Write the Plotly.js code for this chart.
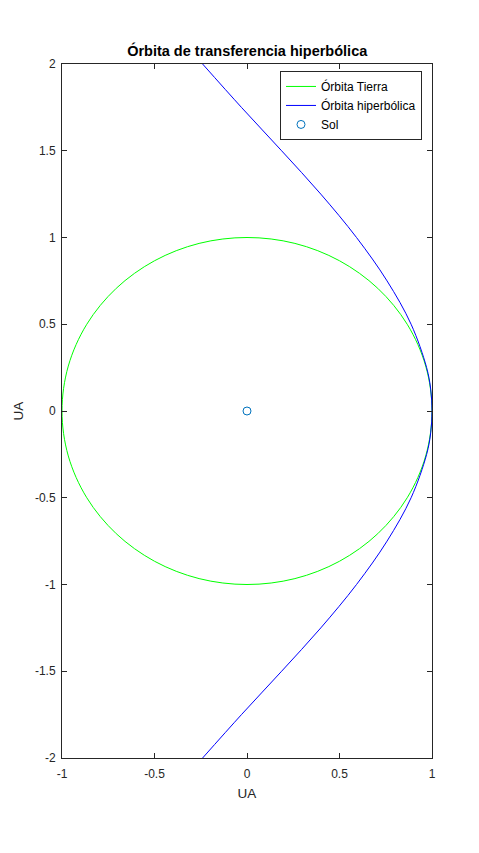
<!DOCTYPE html>
<html>
<head>
<meta charset="utf-8">
<script src="https://cdn.plot.ly/plotly-3.0.1.min.js"></script>
<style>html,body{margin:0;padding:0;background:#fff;}#plot{width:479px;height:853px;}</style>
</head>
<body>
<div id="plot"></div>
<script>
// Earth orbit (unit circle, 15° steps)
var earthX = [1, 0.966, 0.866, 0.707, 0.5, 0.259, 0, -0.259, -0.5, -0.707, -0.866, -0.966, -1, -0.966, -0.866, -0.707, -0.5, -0.259, 0, 0.259, 0.5, 0.707, 0.866, 0.966, 1];
var earthY = [0, 0.259, 0.5, 0.707, 0.866, 0.966, 1, 0.966, 0.866, 0.707, 0.5, 0.259, 0, -0.259, -0.5, -0.707, -0.866, -0.966, -1, -0.966, -0.866, -0.707, -0.5, -0.259, 0];
// Hyperbolic orbit
var hypX = [-0.24, -0.03, 0.187, 0.399, 0.592, 0.757, 0.887, 0.971, 0.993, 1, 0.993, 0.971, 0.887, 0.757, 0.592, 0.399, 0.187, -0.03, -0.24];
var hypY = [2, 1.75, 1.5, 1.25, 1, 0.75, 0.5, 0.25, 0.125, 0, -0.125, -0.25, -0.5, -0.75, -1, -1.25, -1.5, -1.75, -2];
// Sun
var sunX = [0];
var sunY = [0];
var names = ['Órbita Tierra', 'Órbita hiperbólica', 'Sol'];
var xTicks = [-1, -0.5, 0, 0.5, 1];
var yTicks = [-2, -1.5, -1, -0.5, 0, 0.5, 1, 1.5, 2];

var font = 'Liberation Sans, Arial, Helvetica, sans-serif';
var traces = [
  {x: earthX, y: earthY, mode: 'lines', name: names[0], line: {color: '#00ff00', width: 1, shape: 'spline'}},
  {x: hypX, y: hypY, mode: 'lines', name: names[1], line: {color: '#0000ff', width: 1, shape: 'spline'}},
  {x: sunX, y: sunY, mode: 'markers', name: names[2], marker: {symbol: 'circle-open', size: 8, color: '#0072bd', line: {width: 1, color: '#0072bd'}}}
];
var axisCommon = {
  showgrid: false, zeroline: false, showline: true, mirror: 'ticks',
  linecolor: '#262626', linewidth: 1, ticks: 'inside', ticklen: 5, tickcolor: '#262626',
  tickfont: {family: font, size: 12, color: '#262626'}
};
var layout = {
  width: 479, height: 853,
  margin: {l: 62, r: 47, t: 64, b: 95},
  paper_bgcolor: '#fff', plot_bgcolor: '#fff',
  title: {text: '<b>Órbita de transferencia hiperbólica</b>', font: {family: font, size: 14.5, color: '#000'}, x: 0.5161, xanchor: 'center', y: 0.9405, yanchor: 'middle'},
  xaxis: Object.assign({}, axisCommon, {range: [-1, 1], tickvals: xTicks, ticktext: xTicks.map(String), ticklabelstandoff: 5, title: {text: 'UA', font: {family: font, size: 13.5, color: '#262626'}, standoff: 8}}),
  yaxis: Object.assign({}, axisCommon, {range: [-2, 2], tickvals: yTicks, ticktext: yTicks.map(String), ticklabelstandoff: 3, title: {text: 'UA', font: {family: font, size: 13.5, color: '#262626'}, standoff: 8}}),
  showlegend: true,
  legend: {x: 0.973, xanchor: 'right', y: 0.99, yanchor: 'top', bgcolor: '#fff', bordercolor: '#262626', borderwidth: 1,
           font: {family: font, size: 12, color: '#000'}, tracegroupgap: 0, itemwidth: 30}
};
Plotly.newPlot('plot', traces, layout, {displayModeBar: false, staticPlot: true});
</script>
</body>
</html>
